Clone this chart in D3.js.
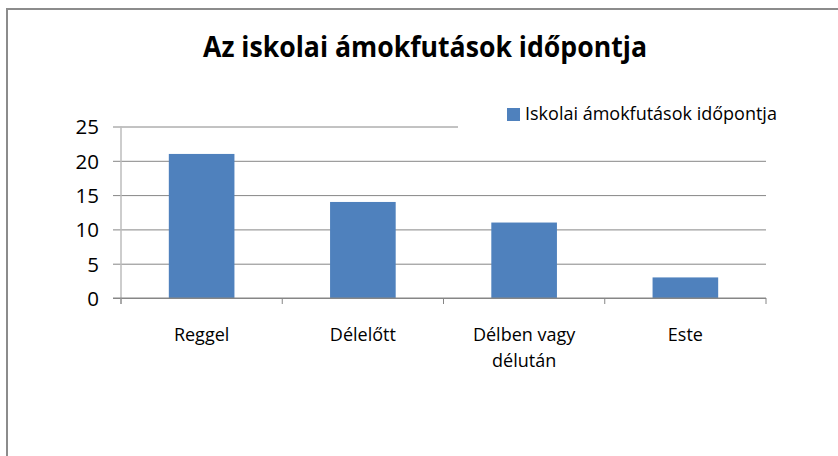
<!DOCTYPE html>
<html>
<head>
<meta charset="utf-8">
<script src="https://cdn.jsdelivr.net/npm/d3@7"></script>
<style>
  body { margin: 0; background: #fff; }
  text { font-family: "Open Sans", sans-serif; fill: #000; }
  .axis path { display: none; }
</style>
</head>
<body>
<div id="chart"></div>
<script>
var title = "Az iskolai ámokfutások időpontja";
var seriesName = "Iskolai ámokfutások időpontja";
var categories = ["Reggel", "Délelőtt", "Délben vagy délután", "Este"];
var labelLines = [["Reggel"], ["Délelőtt"], ["Délben vagy", "délután"], ["Este"]];
var values = [21, 14, 11, 3];
var yTicks = [0, 5, 10, 15, 20, 25];

var width = 838;
var height = 456;
var margin = {top: 126.5, left: 121, right: 72, bottom: 158};

var svg = d3.select("#chart")
  .append("svg")
  .attr("width", width)
  .attr("height", height);

// chart frame (only top and left edges are visible)
svg.append("rect")
  .attr("x", 7)
  .attr("y", 9)
  .attr("width", 900)
  .attr("height", 600)
  .attr("fill", "none")
  .attr("stroke", "#8c8c8c")
  .attr("stroke-width", 2);

var xScale = d3.scaleBand()
  .domain(categories)
  .range([margin.left, width - margin.right]);

var yScale = d3.scaleLinear()
  .domain([0, 25])
  .range([height - margin.bottom, margin.top]);

var legendX = 507;

// gridlines + y tick labels
var yAxis = svg.append("g")
  .attr("class", "axis")
  .attr("transform", `translate(${margin.left},0)`)
  .call(d3.axisLeft(yScale).tickValues(yTicks).tickSize(8).tickPadding(14));

yAxis.selectAll(".tick line")
  .attr("x1", -8)
  .attr("x2", function(d) {
    if (d === 25) return legendX - 49 - margin.left;
    return width - margin.right - margin.left;
  })
  .attr("stroke", "#868686")
  .attr("stroke-width", 1);

yAxis.selectAll(".tick text")
  .style("font-size", "20.5px")
  .attr("dy", "0.36em");

// y axis line
svg.append("line")
  .attr("x1", margin.left)
  .attr("x2", margin.left)
  .attr("y1", yScale(25))
  .attr("y2", yScale(0) + 6)
  .attr("stroke", "#bdbdbd")
  .attr("stroke-width", 1.5);

// bars
var barW = xScale.bandwidth() * 0.407;
svg.selectAll("rect.bar")
  .data(values)
  .enter()
  .append("rect")
    .attr("class", "bar")
    .attr("x", function(d, i) { return xScale(categories[i]) + (xScale.bandwidth() - barW) / 2; })
    .attr("y", function(d) { return yScale(d); })
    .attr("width", barW)
    .attr("height", function(d) { return yScale(0) - yScale(d); })
    .attr("fill", "#4f81bd");

// x axis line and category boundary ticks
svg.append("line")
  .attr("x1", margin.left - 8)
  .attr("x2", width - margin.right)
  .attr("y1", yScale(0))
  .attr("y2", yScale(0))
  .attr("stroke", "#868686")
  .attr("stroke-width", 1);

var bounds = categories.map(function(c) { return xScale(c); }).concat([width - margin.right]);
svg.selectAll("line.xtick")
  .data(bounds)
  .enter()
  .append("line")
    .attr("class", "xtick")
    .attr("x1", function(d) { return d; })
    .attr("x2", function(d) { return d; })
    .attr("y1", yScale(0))
    .attr("y2", yScale(0) + 6)
    .attr("stroke", "#868686");

// category labels
var xLabels = svg.selectAll("text.xlabel")
  .data(categories)
  .enter()
  .append("text")
    .attr("class", "xlabel")
    .attr("x", function(d) { return xScale(d) + xScale.bandwidth() / 2; })
    .attr("y", yScale(0) + 43)
    .attr("text-anchor", "middle")
    .style("font-size", "18px");

xLabels.selectAll("tspan")
  .data(function(d, i) { return labelLines[i]; })
  .enter()
  .append("tspan")
    .attr("x", function() { return d3.select(this.parentNode).attr("x"); })
    .attr("dy", function(d, i) { return i === 0 ? 0 : 26; })
    .text(function(d) { return d; });

// title
svg.append("text")
  .attr("x", 425)
  .attr("y", 57)
  .attr("text-anchor", "middle")
  .attr("textLength", 444)
  .attr("lengthAdjust", "spacingAndGlyphs")
  .style("font-size", "28px")
  .style("font-weight", "bold")
  .text(title);

// legend
svg.append("rect")
  .attr("x", legendX)
  .attr("y", 108)
  .attr("width", 13)
  .attr("height", 13)
  .attr("fill", "#4f81bd");

svg.append("text")
  .attr("x", legendX + 18)
  .attr("y", 120)
  .style("font-size", "18px")
  .text(seriesName);
</script>
</body>
</html>
